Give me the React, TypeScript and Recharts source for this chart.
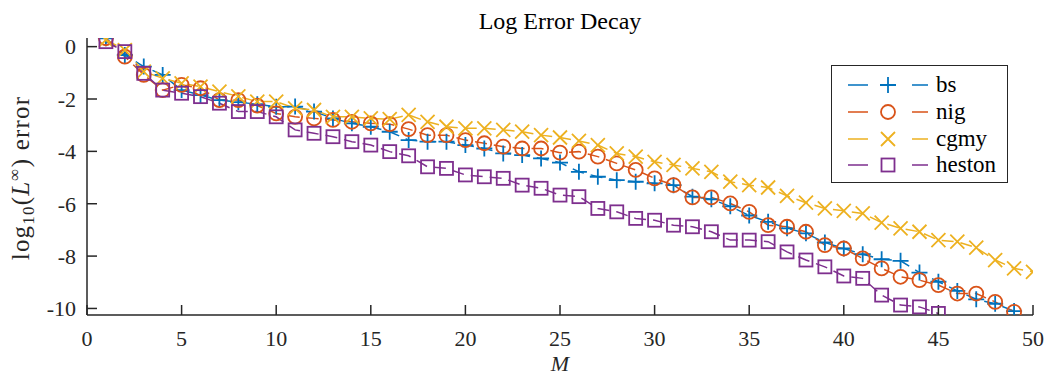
import { Legend, Line, LineChart, XAxis, YAxis } from "recharts";

// log10 of the max error against M (M = index + 1)
const bsErr = [
  0.32, -0.32, -0.76, -1.08, -1.66, -1.85, -2.04, -2.12, -2.2, -2.3,
  -2.29, -2.48, -2.74, -2.93, -3.06, -3.25, -3.57, -3.63, -3.63, -3.76,
  -3.89, -4.08, -4.14, -4.27, -4.43, -4.78, -4.97, -5.1, -5.16, -5.22,
  -5.29, -5.73, -5.83, -6.1, -6.45, -6.69, -6.94, -7.13, -7.48, -7.71,
  -7.93, -8.12, -8.18, -8.63, -8.98, -9.33, -9.65, -9.82, -10.1,
];
const nigErr = [
  0.32, -0.38, -1.08, -1.66, -1.46, -1.59, -2.04, -2.04, -2.25, -2.55,
  -2.68, -2.74, -2.8, -2.87, -2.93, -2.96, -3.15, -3.38, -3.38, -3.57,
  -3.69, -3.82, -3.89, -3.89, -4.05, -4.01, -4.2, -4.46, -4.71, -5.03,
  -5.29, -5.76, -5.76, -5.99, -6.31, -6.82, -6.88, -7.07, -7.58, -7.71,
  -8.09, -8.47, -8.79, -8.92, -9.11, -9.43, -9.43, -9.75, -10.13,
];
const cgmyErr = [
  0.26, -0.13, -0.95, -1.21, -1.4, -1.53, -1.72, -1.9, -2.1, -2.1,
  -2.36, -2.42, -2.68, -2.68, -2.74, -2.77, -2.61, -2.87, -3.06, -3.12,
  -3.12, -3.18, -3.25, -3.38, -3.47, -3.6, -3.76, -4.08, -4.2, -4.4,
  -4.52, -4.65, -4.78, -5.16, -5.29, -5.38, -5.7, -5.96, -6.18, -6.27,
  -6.37, -6.72, -6.94, -7.07, -7.39, -7.45, -7.68, -8.15, -8.47, -8.6,
];
const hestonErr = [
  0.19, -0.19, -1.02, -1.66, -1.78, -1.91, -2.16, -2.48, -2.48, -2.68,
  -3.18, -3.31, -3.44, -3.63, -3.76, -4.01, -4.17, -4.59, -4.65, -4.9,
  -4.97, -5.03, -5.29, -5.41, -5.67, -5.73, -6.18, -6.31, -6.56, -6.63,
  -6.82, -6.88, -7.07, -7.39, -7.39, -7.45, -7.84, -8.15, -8.41, -8.76,
  -8.85, -9.49, -9.87, -9.94, -10.19,
];

const xTicks = [0, 5, 10, 15, 20, 25, 30, 35, 40, 45, 50];
const yTicks = [-10, -8, -6, -4, -2, 0];

type Shape = "plus" | "circle" | "cross" | "square";

const series: { name: string; values: number[]; color: string; shape: Shape }[] = [
  { name: "bs", values: bsErr, color: "#0072BD", shape: "plus" },
  { name: "nig", values: nigErr, color: "#D95319", shape: "circle" },
  { name: "cgmy", values: cgmyErr, color: "#EDB120", shape: "cross" },
  { name: "heston", values: hestonErr, color: "#7E2F8E", shape: "square" },
];

const toRows = (vals: number[]) => vals.map((v, i) => ({ M: i + 1, v }));

const FONT = "'Liberation Serif', 'Times New Roman', serif";
const AXIS = "#262626";

function Marker({ cx, cy, shape, color }: { cx?: number; cy?: number; shape: Shape; color: string }) {
  if (cx == null || cy == null || isNaN(cx) || isNaN(cy)) return null;
  const common = { stroke: color, strokeWidth: 1.8, fill: "none" };
  if (shape === "plus") {
    const s = 8;
    return <path d={`M${cx - s},${cy}H${cx + s}M${cx},${cy - s}V${cy + s}`} {...common} />;
  }
  if (shape === "circle") return <circle cx={cx} cy={cy} r={7} {...common} />;
  if (shape === "cross") {
    const s = 7;
    return (
      <path
        d={`M${cx - s},${cy - s}L${cx + s},${cy + s}M${cx - s},${cy + s}L${cx + s},${cy - s}`}
        {...common}
      />
    );
  }
  return <rect x={cx - 6.5} y={cy - 6.5} width={13} height={13} {...common} />;
}

function LegendBox() {
  return (
    <div
      style={{
        boxSizing: "border-box",
        width: 177,
        height: 118,
        border: `1.5px solid ${AXIS}`,
        background: "#fff",
        paddingTop: 6,
      }}
    >
      {series.map((s) => (
        <div key={s.name} style={{ display: "flex", alignItems: "center", height: 26.7 }}>
          <svg width={104} height={26} style={{ flex: "none" }}>
            <line x1={16} y1={13} x2={96} y2={13} stroke={s.color} strokeWidth={1.5} strokeDasharray="20 44" />
            <Marker cx={56} cy={13} shape={s.shape} color={s.color} />
          </svg>
          <span style={{ fontFamily: FONT, fontSize: 23, color: "#000", lineHeight: "26px" }}>{s.name}</span>
        </div>
      ))}
    </div>
  );
}

export default function App() {
  const tickStyle = { fill: AXIS, fontSize: 22, fontFamily: FONT };
  return (
    <div style={{ position: "absolute", left: 0, top: 0, width: 1047, height: 376, background: "#fff" }}>
      <LineChart width={1047} height={376} margin={{ top: 38, right: 14, bottom: 0, left: 0 }}>
        <XAxis
          type="number"
          dataKey="M"
          domain={[0, 50]}
          ticks={xTicks}
          interval={0}
          allowDataOverflow
          height={61}
          tickSize={-10}
          tickMargin={25}
          stroke={AXIS}
          strokeWidth={1.5}
          tick={tickStyle}
        />
        <YAxis
          type="number"
          domain={[-10.25, 0.33]}
          ticks={yTicks}
          interval={0}
          allowDataOverflow
          width={87}
          tickSize={-10}
          tickMargin={21}
          stroke={AXIS}
          strokeWidth={1.5}
          tick={tickStyle}
        />
        {series.map((s) => (
          <Line
            key={s.name}
            name={s.name}
            data={toRows(s.values)}
            dataKey="v"
            type="linear"
            stroke={s.color}
            strokeWidth={1.5}
            strokeDasharray="12 7"
            isAnimationActive={false}
            activeDot={false}
            dot={(p: any) => (
              <Marker key={`${s.name}-${p.index}`} cx={p.cx} cy={p.cy} shape={s.shape} color={s.color} />
            )}
          />
        ))}
        <Legend
          layout="vertical"
          align="center"
          verticalAlign="middle"
          wrapperStyle={{ left: 831, top: 65, width: 177, height: 118 }}
          content={() => <LegendBox />}
        />
      </LineChart>
      <svg
        width={1047}
        height={376}
        style={{ position: "absolute", left: 0, top: 0, pointerEvents: "none" }}
      >
        <text x={560} y={29} textAnchor="middle" fontFamily={FONT} fontSize={24} fill="#000">
          Log Error Decay
        </text>
        <text x={560} y={371} textAnchor="middle" fontFamily={FONT} fontSize={22} fontStyle="italic" fill={AXIS}>
          M
        </text>
        <text
          transform="translate(29,178) rotate(-90)"
          textAnchor="middle"
          fontFamily={FONT}
          fontSize={25}
          letterSpacing={1.2}
          fill={AXIS}
        >
          log
          <tspan fontSize={17} dy={5}>10</tspan>
          <tspan dy={-5}>(</tspan>
          <tspan fontStyle="italic">L</tspan>
          <tspan fontSize={17} dy={-9}>∞</tspan>
          <tspan dy={9}>) error</tspan>
        </text>
      </svg>
    </div>
  );
}
